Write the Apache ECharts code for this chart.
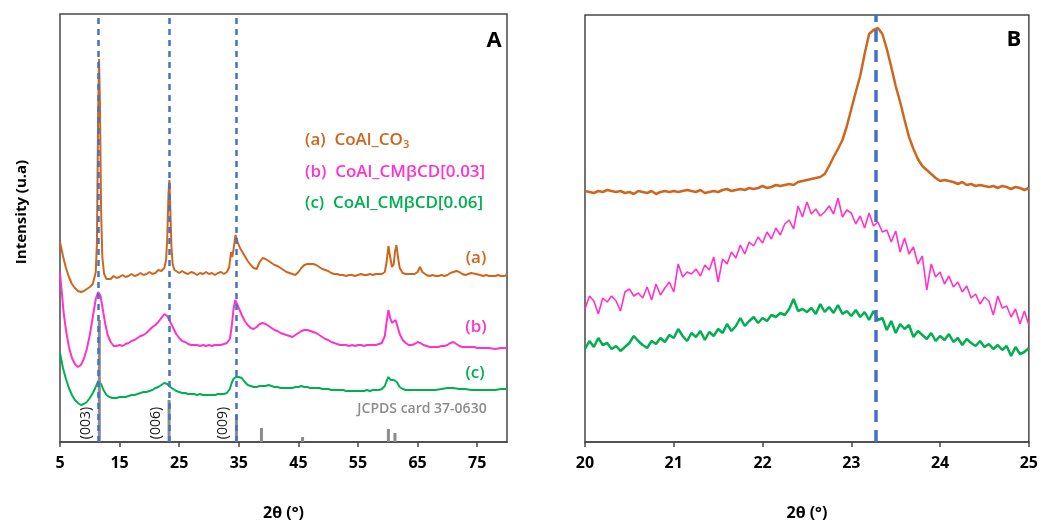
<!DOCTYPE html>
<html>
<head>
<meta charset="utf-8">
<script src="https://cdn.jsdelivr.net/npm/echarts@6/dist/echarts.min.js"></script>
<style>
  html, body { margin: 0; padding: 0; background: #fff; }
  #chart { width: 1041px; height: 528px; }
</style>
</head>
<body>
<div id="chart"></div>
<script>
// ---- panel A : 2θ 5-80, [2θ, intensity] ----
const coAlCO3 = [[5,200],[5.5,186],[6,174],[6.5,165],[7,158],[7.5,154],[8,151],[8.5,150],[9,151],[9.5,153],[10,155],[10.5,158],[11,170],[11.2,200],[11.4,330],[11.55,383],[11.7,340],[11.9,230],[12.1,185],[12.4,168],[12.8,163],[13,164],[13.5,163],[14,166],[14.5,164],[15,165],[15.5,167],[16,165],[16.5,166],[17,168],[17.5,166],[18,167],[18.5,169],[19,167],[19.5,168],[20,170],[20.5,168],[21,169],[21.5,172],[22,171],[22.5,174],[22.8,182],[23,205],[23.2,248],[23.35,262],[23.5,235],[23.7,195],[23.9,178],[24.2,172],[24.5,170],[25,169],[25.5,171],[26,169],[26.5,168],[27,170],[27.5,169],[28,167],[28.5,169],[29,168],[29.5,170],[30,168],[30.5,169],[31,167],[31.5,169],[32,170],[32.5,168],[33,170],[33.4,175],[33.7,190],[33.9,185],[34.1,192],[34.45,207],[34.8,200],[35.2,194],[35.6,190],[36,186],[36.5,181],[37,177],[37.5,174],[38,173],[38.5,180],[39,184],[39.5,183],[40,181],[40.5,179],[41,177],[41.5,176],[42,174],[42.5,172],[43,170],[43.5,169],[44,168],[44.5,167],[45,170],[45.5,174],[46,177],[46.5,178],[47,178],[47.5,178],[48,177],[48.5,175],[49,173],[49.5,172],[50,171],[50.5,169],[51,168],[51.5,168],[52,167],[52.5,167],[53,166],[53.5,167],[54,167],[54.5,166],[55,167],[55.5,168],[56,167],[56.5,167],[57,168],[57.5,167],[58,168],[58.5,168],[59,168],[59.5,170],[59.8,180],[60.1,196],[60.4,185],[60.7,175],[61,178],[61.2,190],[61.45,197],[61.7,185],[62,174],[62.5,169],[63,168],[63.5,168],[64,168],[64.5,168],[65,170],[65.4,175],[65.8,170],[66,168],[66.5,167],[67,166],[67.5,167],[68,166],[68.5,166],[69,167],[69.5,166],[70,167],[70.5,169],[71,170],[71.5,171],[72,170],[72.5,168],[73,167],[73.5,168],[74,169],[74.3,170],[74.8,168],[75,167],[75.5,167],[76,166],[76.5,167],[77,166],[77.5,166],[78,166],[78.5,167],[79,166],[79.5,166],[80,167]];

const coAlCM03 = [[5,169],[5.3,150],[5.6,130],[6,112],[6.5,95],[7,84],[7.5,78],[8,75],[8.5,77],[9,83],[9.5,93],[10,107],[10.5,125],[11,143],[11.4,150],[11.8,146],[12.2,132],[12.6,118],[13,107],[13.5,100],[14,96],[14.5,96],[15,97],[15.5,96],[16,98],[16.5,99],[17,101],[17.5,102],[18,104],[18.5,106],[19,107],[19.5,109],[20,112],[20.5,115],[21,117],[21.5,120],[22,124],[22.5,128],[23,126],[23.5,120],[24,114],[24.5,108],[25,104],[25.5,101],[26,100],[26.5,98],[27,97],[27.5,97],[28,97],[28.5,96],[29,97],[29.5,96],[30,97],[30.5,96],[31,97],[31.5,97],[32,97],[32.5,98],[33,99],[33.5,103],[33.8,115],[34.1,132],[34.4,142],[34.7,140],[35,134],[35.5,127],[36,121],[36.5,117],[37,114],[37.5,113],[38,115],[38.5,118],[39,119],[39.5,118],[40,116],[40.5,114],[41,112],[41.5,111],[42,109],[42.5,108],[43,107],[43.5,106],[44,105],[44.5,107],[45,109],[45.5,111],[46,112],[46.5,112],[47,111],[47.5,110],[48,109],[48.5,107],[49,105],[49.5,103],[50,102],[50.5,100],[51,99],[51.5,98],[52,97],[52.5,97],[53,97],[53.5,96],[54,97],[54.5,96],[55,97],[55.5,97],[56,96],[56.5,97],[57,97],[57.5,97],[58,97],[58.5,98],[59,99],[59.5,106],[59.8,120],[60.1,132],[60.4,124],[60.7,119],[61,121],[61.3,122],[61.6,116],[62,108],[62.5,102],[63,99],[63.5,97],[64,97],[64.5,98],[65,100],[65.5,99],[66,97],[66.5,96],[67,95],[67.5,95],[68,95],[68.5,95],[69,96],[69.5,96],[70,97],[70.5,99],[71,100],[71.5,98],[72,96],[72.5,95],[73,95],[73.5,95],[74,95],[74.5,95],[75,94],[75.5,94],[76,94],[77,94],[78,93],[79,94],[80,94]];

const coAlCM06 = [[5,89],[5.5,74],[6,63],[6.5,54],[7,47],[7.5,42],[8,39],[8.5,37],[9,38],[9.5,40],[10,44],[10.5,49],[11,55],[11.4,61],[11.6,62],[11.9,58],[12.3,52],[12.8,47],[13.3,45],[13.8,44],[14.5,44],[15,45],[15.5,45],[16,45],[16.5,46],[17,47],[17.5,47],[18,48],[18.5,49],[19,50],[19.5,50],[20,51],[20.5,52],[21,54],[21.5,55],[22,57],[22.5,59],[23,58],[23.5,55],[24,53],[24.5,51],[25,50],[25.5,49],[26,49],[26.5,48],[27,48],[27.5,48],[28,47],[28.5,48],[29,47],[29.5,47],[30,47],[30.5,47],[31,47],[31.5,48],[32,48],[32.5,48],[33,49],[33.5,53],[33.8,59],[34.1,63],[34.5,65],[35,65],[35.5,64],[36,60],[36.5,57],[37,56],[37.5,55],[38,55],[38.5,56],[39,56],[39.5,56],[40,57],[40.5,56],[41,55],[41.5,55],[42,54],[42.5,54],[43,54],[43.5,54],[44,54],[44.5,55],[45,55],[45.5,56],[46,55],[46.5,55],[47,54],[47.5,54],[48,54],[48.5,54],[49,53],[49.5,53],[50,53],[50.5,52],[51,52],[51.5,52],[52,52],[52.5,52],[53,51],[53.5,51],[54,51],[54.5,51],[55,51],[55.5,51],[56,51],[56.5,52],[57,51],[57.5,52],[58,52],[58.5,52],[59,53],[59.5,56],[59.8,61],[60.1,65],[60.5,62],[61,62],[61.5,60],[62,55],[62.5,53],[63,52],[64,52],[65,52],[66,52],[67,52],[68,52],[69,53],[70,54],[71,54],[72,53],[73,53],[74,52],[75,52],[76,52],[77,52],[78,52],[79,53],[80,53]];

// JCPDS card 37-0630 reference lines
const jcpdsTheta = [11.6, 23.3, 34.6, 38.8, 45.7, 60.1, 61.2];
const jcpdsHeight = [122, 42, 27, 14, 5, 13, 9];
const hklText = ['(003)', '(006)', '(009)'];

// dashed guide lines
const guideA = [11.45, 23.25, 34.6];
const guideB = [23.27];

// ---- panel B : 2θ 20-25 ----
const bTheta = [20,20.05,20.1,20.15,20.2,20.25,20.3,20.35,20.4,20.45,20.5,20.55,20.6,20.65,20.7,20.75,20.8,20.85,20.9,20.95,21,21.05,21.1,21.15,21.2,21.25,21.3,21.35,21.4,21.45,21.5,21.55,21.6,21.65,21.7,21.75,21.8,21.85,21.9,21.95,22,22.05,22.1,22.15,22.2,22.25,22.3,22.35,22.4,22.45,22.5,22.55,22.6,22.65,22.7,22.75,22.8,22.85,22.9,22.95,23,23.05,23.1,23.15,23.2,23.25,23.3,23.35,23.4,23.45,23.5,23.55,23.6,23.65,23.7,23.75,23.8,23.85,23.9,23.95,24,24.05,24.1,24.15,24.2,24.25,24.3,24.35,24.4,24.45,24.5,24.55,24.6,24.65,24.7,24.75,24.8,24.85,24.9,24.95,25];
const bCO3 = [251,250,249,251,250,252,251,250,251,249,250,248,251,250,249,251,248,250,251,250,251,250,251,252,251,250,252,249,250,251,250,252,253,251,252,253,252,254,253,254,256,254,255,257,256,257,258,257,260,261,262,263,264,265,268,276,285,293,302,316,333,350,366,388,408,412,414,408,393,375,356,340,322,305,293,283,276,272,268,264,261,262,261,260,258,260,257,258,256,257,256,255,256,254,256,255,253,255,254,252,254];
const bCM03 = [133,146,141,128,144,140,146,141,131,150,153,146,149,144,155,142,158,147,154,160,150,178,165,170,168,173,166,177,172,185,160,183,178,190,184,197,188,200,196,205,199,210,203,214,207,218,222,213,236,225,240,228,233,226,230,236,228,244,225,232,229,218,226,214,229,216,220,210,212,200,211,190,204,188,195,178,186,152,178,165,170,158,166,155,160,150,156,144,148,138,145,141,127,146,134,136,125,133,118,131,117];
const bCM06 = [93,101,95,104,97,99,93,96,91,95,99,106,101,97,94,101,98,104,100,107,104,113,106,101,109,105,111,102,110,106,113,109,118,111,116,124,116,121,125,119,124,121,127,125,129,127,133,143,131,133,130,134,128,138,130,135,129,137,128,131,126,132,125,130,122,131,122,124,112,121,109,118,113,117,105,111,107,103,109,101,106,102,108,100,104,97,103,99,96,101,95,98,93,97,92,96,86,95,88,90,94];

const ORANGE = '#CF661E', MAGENTA = '#FF33CC', GREEN = '#00B050';
const BLUE = '#4472C4', GRAY = '#8C8C8C', FRAME = '#474747';
const FONT = '"Open Sans", "Liberation Sans", sans-serif';

let myChart = echarts.init(document.getElementById('chart'));

function xAxisBase(gridIndex, min, max, interval) {
    return {
        type: 'value', gridIndex: gridIndex, min: min, max: max, interval: interval,
        splitLine: { show: false },
        axisLine: { lineStyle: { color: FRAME, width: 1.5 } },
        axisTick: { length: 5, lineStyle: { color: FRAME, width: 1.5 } },
        axisLabel: { color: '#000', fontWeight: 'bold', fontSize: 16, fontFamily: FONT, margin: 13 },
        name: '2θ (°)', nameLocation: 'middle', nameGap: 63,
        nameTextStyle: { color: '#000', fontWeight: 'bold', fontSize: 16, fontFamily: FONT }
    };
}
function yAxisBase(gridIndex, max) {
    return {
        type: 'value', gridIndex: gridIndex, min: 0, max: max,
        axisLine: { show: false }, axisTick: { show: false },
        axisLabel: { show: false }, splitLine: { show: false }
    };
}
function lineSeries(name, data, color, width, xi) {
    return {
        name: name, type: 'line', xAxisIndex: xi, yAxisIndex: xi, data: data,
        showSymbol: false, z: 2,
        lineStyle: { color: color, width: width }, itemStyle: { color: color }
    };
}

let xA = xAxisBase(0, 5, 80, 10);
xA.axisLabel.showMaxLabel = false;

let option = {
    animation: false,
    grid: [
        { left: 60, top: 14, width: 447, height: 428, show: true, borderColor: FRAME, borderWidth: 1.5 },
        { left: 585, top: 15, width: 446, height: 427, show: true, borderColor: FRAME, borderWidth: 1.5 }
    ],
    xAxis: [xA, xAxisBase(1, 20, 25, 1)],
    yAxis: [yAxisBase(0, 428), yAxisBase(1, 427)],
    series: [
        lineSeries('CoAl_CO3', coAlCO3, ORANGE, 2, 0),
        lineSeries('CoAl_CMβCD[0.03]', coAlCM03, MAGENTA, 2, 0),
        lineSeries('CoAl_CMβCD[0.06]', coAlCM06, GREEN, 2, 0),
        {
            name: 'JCPDS 37-0630', type: 'bar', xAxisIndex: 0, yAxisIndex: 0, z: 3,
            barWidth: 3, itemStyle: { color: GRAY },
            data: jcpdsTheta.map((t, i) => [t, jcpdsHeight[i]])
        },
        {
            name: 'guideA', type: 'line', xAxisIndex: 0, yAxisIndex: 0, z: 5, data: [],
            markLine: {
                silent: true, symbol: ['none', 'none'], label: { show: false },
                lineStyle: { color: BLUE, width: 2.5, type: [6, 5] },
                data: guideA.map(v => ({ xAxis: v }))
            }
        },
        lineSeries('CoAl_CO3 B', bTheta.map((t, i) => [t, bCO3[i]]), ORANGE, 2.5, 1),
        lineSeries('CoAl_CMβCD[0.03] B', bTheta.map((t, i) => [t, bCM03[i]]), MAGENTA, 1.6, 1),
        lineSeries('CoAl_CMβCD[0.06] B', bTheta.map((t, i) => [t, bCM06[i]]), GREEN, 2.5, 1),
        {
            name: 'guideB', type: 'line', xAxisIndex: 1, yAxisIndex: 1, z: 5, data: [],
            markLine: {
                silent: true, symbol: ['none', 'none'], label: { show: false },
                lineStyle: { color: BLUE, width: 3.5, type: [12, 8] },
                data: guideB.map(v => ({ xAxis: v }))
            }
        }
    ]
};
myChart.setOption(option);

// texts
function txt(x, y, text, color, size, weight, extra) {
    return Object.assign({
        type: 'text', x: x, y: y, z: 10,
        style: {
            text: text, fill: color, fontSize: size, fontWeight: weight, fontFamily: FONT,
            align: 'center', verticalAlign: 'middle'
        }
    }, extra || {});
}
let graphics = [
    txt(22, 212, 'Intensity (u.a)', '#000', 15, 'bold', { rotation: Math.PI / 2 }),
    txt(494, 41, 'A', '#000', 22, 'bold'),
    txt(1014, 40, 'B', '#000', 22, 'bold'),
    txt(422, 409, 'JCPDS card 37-0630', GRAY, 14, 600),
    txt(476, 258, '(a)', ORANGE, 17, 600),
    txt(476, 327, '(b)', MAGENTA, 17, 600),
    txt(475, 373, '(c)', GREEN, 17, 600),
    {
        type: 'text', x: 305, y: 140, z: 10,
        style: {
            text: '{m|(a)  CoAl_CO}{s|3}', fill: ORANGE, verticalAlign: 'middle',
            rich: {
                m: { fontSize: 17, fontWeight: 600, fontFamily: FONT, fill: ORANGE },
                s: { fontSize: 11, fontWeight: 600, fontFamily: FONT, fill: ORANGE, padding: [10, 0, 0, 0] }
            }
        }
    },
    txt(305, 172, '(b)  CoAl_CMβCD[0.03]', MAGENTA, 17, 600, {}),
    txt(305, 203, '(c)  CoAl_CMβCD[0.06]', GREEN, 17, 600, {})
];
graphics[8].style.align = 'left';
graphics[9].style.align = 'left';
hklText.forEach(function (t, i) {
    let p = myChart.convertToPixel({ gridIndex: 0 }, [jcpdsTheta[i], 0]);
    graphics.push(txt(p[0] - 13, p[1] - 19, t, '#111', 14, 'normal', { rotation: Math.PI / 2 }));
});
myChart.setOption({ graphic: graphics });
</script>
</body>
</html>
